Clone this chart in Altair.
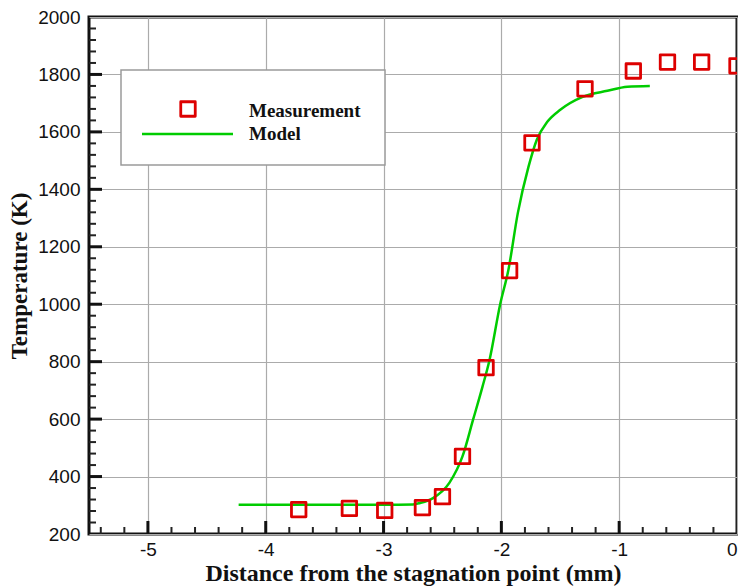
import altair as alt
import numpy as np
import pandas as pd

# Measured temperature profile
meas_x = [-3.72, -3.29, -2.99, -2.67, -2.50, -2.33, -2.13, -1.93, -1.74, -1.29, -0.88, -0.59, -0.30, 0.0]
meas_t = [285, 289, 282, 292, 330, 470, 779, 1117, 1562, 1750, 1812, 1843, 1843, 1830]

# Model prediction
model_x = [-4.23, -3.50, -3.00, -2.75, -2.69, -2.58, -2.44, -2.33, -2.24, -2.16, -2.10,
           -2.01, -1.94, -1.86, -1.77, -1.70, -1.61, -1.50, -1.31, -1.10, -0.93, -0.74]
model_t = [302, 302, 302, 303, 308, 325, 379, 470, 598, 713, 807,
           1000, 1120, 1318, 1478, 1572, 1635, 1677, 1722, 1743, 1757, 1760]

x_major = [-5, -4, -3, -2, -1, 0]
y_major = [200, 400, 600, 800, 1000, 1200, 1400, 1600, 1800, 2000]
x_minor = [round(v, 1) for v in np.arange(-5.4, 0.0, 0.2) if abs(v - round(v)) > 1e-6]
y_minor = [v for v in range(240, 2000, 40) if v % 200 != 0]

W, H = 648, 517
RED = "#dd0000"
GREEN = "#00cc00"
SERIF = "Liberation Serif"
SANS = "Liberation Sans"

meas = pd.DataFrame({"x": meas_x, "t": meas_t})
model = pd.DataFrame({"x": model_x, "t": model_t})

xs = alt.Scale(domain=[-5.5, 0], nice=False, zero=False)
ys = alt.Scale(domain=[200, 2000], nice=False, zero=False)

x_axis = alt.Axis(
    values=x_major, labelExpr="'' + datum.value", grid=True, gridColor="#ababab",
    gridWidth=1.2, ticks=False, domain=False, labelFont=SANS, labelFontSize=19,
    labelColor="#111", labelPadding=6, title="Distance from the stagnation point (mm)",
    titleFont=SERIF, titleFontSize=24, titleFontWeight="bold", titleColor="#111",
    titleBaseline="alphabetic", titleY=46,
)
y_axis = alt.Axis(
    values=y_major, labelExpr="'' + datum.value", grid=True, gridColor="#ababab",
    gridWidth=1.2, ticks=False, domain=False, labelFont=SANS, labelFontSize=19,
    labelColor="#111", labelPadding=9, title="Temperature (K)",
    titleFont=SERIF, titleFontSize=23, titleFontWeight="bold", titleColor="#111",
    titleBaseline="alphabetic", titleX=-63,
)

base = alt.Chart(meas)

frame = alt.Chart(pd.DataFrame({"x": [-5.5], "t": [200]})).mark_point(opacity=0).encode(
    x=alt.X("x:Q", scale=xs, axis=x_axis),
    y=alt.Y("t:Q", scale=ys, axis=y_axis),
)

# inward tick marks
xt_major = alt.Chart(pd.DataFrame({"v": x_major[:-1]})).mark_rule(color="#111", strokeWidth=3).encode(
    x=alt.X("v:Q", scale=xs), y=alt.value(H), y2=alt.value(H - 13))
xt_minor = alt.Chart(pd.DataFrame({"v": x_minor})).mark_rule(color="#222", strokeWidth=2).encode(
    x=alt.X("v:Q", scale=xs), y=alt.value(H), y2=alt.value(H - 7))
yt_major = alt.Chart(pd.DataFrame({"v": y_major[1:-1]})).mark_rule(color="#111", strokeWidth=3).encode(
    y=alt.Y("v:Q", scale=ys), x=alt.value(0), x2=alt.value(13))
yt_minor = alt.Chart(pd.DataFrame({"v": y_minor})).mark_rule(color="#222", strokeWidth=2).encode(
    y=alt.Y("v:Q", scale=ys), x=alt.value(0), x2=alt.value(7))

line = alt.Chart(model).mark_line(color=GREEN, strokeWidth=2.5, interpolate="monotone").encode(
    x=alt.X("x:Q", scale=xs), y=alt.Y("t:Q", scale=ys))

points = base.mark_point(shape="square", size=210, color=RED, strokeWidth=2.8,
                         strokeJoin="round", opacity=1, filled=False, clip=True).encode(
    x=alt.X("x:Q", scale=xs), y=alt.Y("t:Q", scale=ys))

# legend box
one = pd.DataFrame({"k": [0]})
leg_box = alt.Chart(one).mark_rect(fill="white", stroke="#9a9a9a", strokeWidth=1.5).encode(
    x=alt.value(32), x2=alt.value(296), y=alt.value(53), y2=alt.value(148))
leg_sym = alt.Chart(one).mark_point(shape="square", size=210, color=RED, strokeWidth=2.8,
                                    strokeJoin="round", opacity=1, filled=False).encode(
    x=alt.value(99), y=alt.value(92))
leg_line = alt.Chart(one).mark_rule(color=GREEN, strokeWidth=2.5).encode(
    x=alt.value(53), x2=alt.value(144), y=alt.value(117))
leg_text = alt.Chart(pd.DataFrame({"label": ["Measurement", "Model"], "yy": [100, 123]})).mark_text(
    align="left", baseline="alphabetic", font=SERIF, fontWeight="bold", fontSize=19, color="#111"
).encode(x=alt.value(160), y=alt.Y("yy:Q", scale=None), text="label:N")

chart = alt.layer(
    frame, xt_major, xt_minor, yt_major, yt_minor, line, points,
    leg_box, leg_sym, leg_line, leg_text,
).properties(
    width=W, height=H, autosize=alt.AutoSizeParams(type="none"),
    padding={"left": 89, "top": 17, "right": 1, "bottom": 53},
    background="white",
).configure_view(stroke="#111", strokeWidth=3)

chart.save("out.html", embed_options={"renderer": "svg", "actions": False})
